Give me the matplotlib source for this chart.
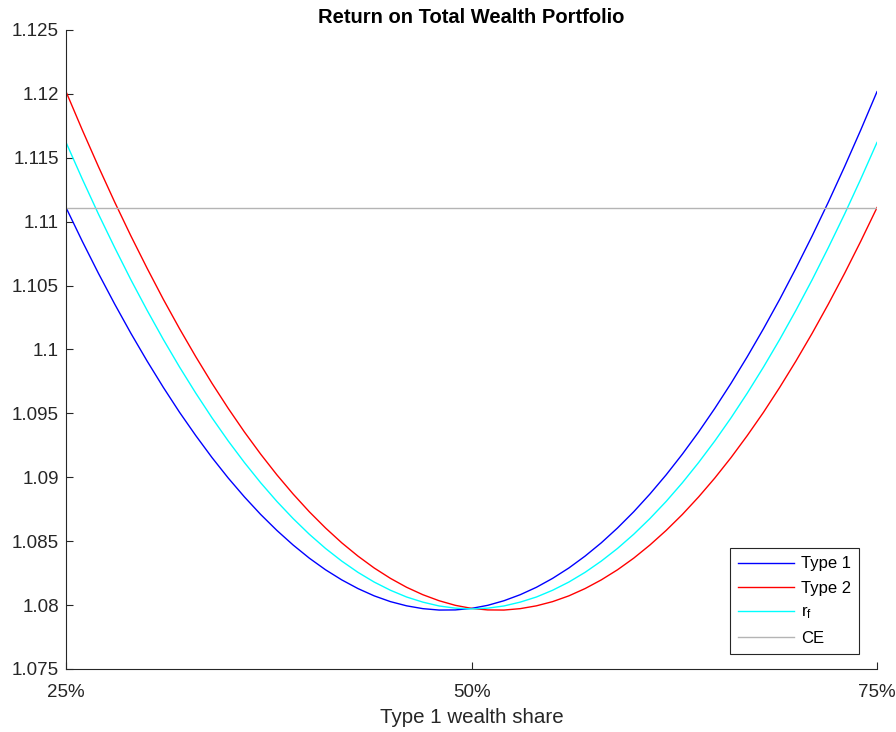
import numpy as np
import matplotlib.pyplot as plt
from matplotlib.ticker import FuncFormatter

# Type 1 wealth share, in percent (1% steps)
share = list(range(25, 76))

# return on total wealth portfolio
type1 = [1.11110, 1.10847, 1.10595, 1.10355, 1.10126, 1.09909, 1.09703, 1.09508,
         1.09326, 1.09154, 1.08994, 1.08846, 1.08709, 1.08584, 1.08470, 1.08367,
         1.08276, 1.08197, 1.08129, 1.08072, 1.08027, 1.07994, 1.07972, 1.07961,
         1.07962, 1.07974, 1.07998, 1.08034, 1.08081, 1.08139, 1.08209, 1.08290,
         1.08383, 1.08487, 1.08603, 1.08730, 1.08869, 1.09019, 1.09181, 1.09354,
         1.09539, 1.09735, 1.09943, 1.10162, 1.10392, 1.10635, 1.10888, 1.11153,
         1.11430, 1.11718, 1.12017]
type2 = [1.12017, 1.11718, 1.11430, 1.11153, 1.10888, 1.10635, 1.10392, 1.10162,
         1.09943, 1.09735, 1.09539, 1.09354, 1.09181, 1.09019, 1.08869, 1.08730,
         1.08603, 1.08487, 1.08383, 1.08290, 1.08209, 1.08139, 1.08081, 1.08034,
         1.07998, 1.07974, 1.07962, 1.07961, 1.07972, 1.07994, 1.08027, 1.08072,
         1.08129, 1.08197, 1.08276, 1.08367, 1.08470, 1.08584, 1.08709, 1.08846,
         1.08994, 1.09154, 1.09326, 1.09508, 1.09703, 1.09909, 1.10126, 1.10355,
         1.10595, 1.10847, 1.11110]
r_f = [1.11620, 1.11334, 1.11059, 1.10797, 1.10545, 1.10306, 1.10078, 1.09862,
       1.09658, 1.09465, 1.09284, 1.09115, 1.08957, 1.08811, 1.08677, 1.08554,
       1.08443, 1.08344, 1.08256, 1.08180, 1.08116, 1.08063, 1.08023, 1.07993,
       1.07976, 1.07970, 1.07976, 1.07993, 1.08023, 1.08063, 1.08116, 1.08180,
       1.08256, 1.08344, 1.08443, 1.08554, 1.08677, 1.08811, 1.08957, 1.09115,
       1.09284, 1.09465, 1.09658, 1.09862, 1.10078, 1.10306, 1.10545, 1.10797,
       1.11059, 1.11334, 1.11620]
ce = 1.1111

x_ticks = [25, 50, 75]
y_ticks = [1.075, 1.08, 1.085, 1.09, 1.095, 1.1, 1.105, 1.11, 1.115, 1.12, 1.125]

plt.rcParams['font.family'] = ['Liberation Sans', 'DejaVu Sans']

fig = plt.figure(figsize=(8.96, 7.32), dpi=100)
ax = fig.add_axes([0.0737, 0.0861, 0.9051, 0.873])

ax.plot(share, type1, color='#0000ff', lw=1.0, label='Type 1')
ax.plot(share, type2, color='#ff0000', lw=1.0, label='Type 2')
ax.plot(share, r_f, color='#00ffff', lw=1.0, label='$\\mathregular{r_f}$')
ax.plot([share[0], share[-1]], [ce, ce], color='#b4b4b4', lw=1.0, label='CE')

ax.set_xlim(25, 75)
ax.set_ylim(1.075, 1.125)
ax.set_xticks(x_ticks)
ax.xaxis.set_major_formatter(FuncFormatter(lambda v, p: '%g%%' % v))
ax.set_yticks(y_ticks)
ax.yaxis.set_major_formatter(FuncFormatter(lambda v, p: '%g' % round(v, 3)))

for side in ['top', 'right']:
    ax.spines[side].set_visible(False)
for side in ['left', 'bottom']:
    ax.spines[side].set_color('#262626')
    ax.spines[side].set_linewidth(0.8)
ax.tick_params(direction='in', length=5, width=0.8, colors='#262626',
               labelsize=13.5, labelcolor='#262626')
ax.tick_params(axis='x', pad=11)
ax.tick_params(axis='y', pad=5)

ax.set_xlabel('Type 1 wealth share', fontsize=14.8, color='#262626', labelpad=5)
ax.set_title('Return on Total Wealth Portfolio', fontsize=14.5, fontweight='bold',
             pad=5)

leg = ax.legend(loc='lower right', bbox_to_anchor=(0.978, 0.0235),
                borderaxespad=0, fontsize=12,
                fancybox=False, framealpha=1, edgecolor='#262626',
                handlelength=3.35, handletextpad=0.4, borderpad=0.5,
                labelspacing=0.55)
leg.get_frame().set_linewidth(0.8)

fig.savefig('out.png', dpi=100)
